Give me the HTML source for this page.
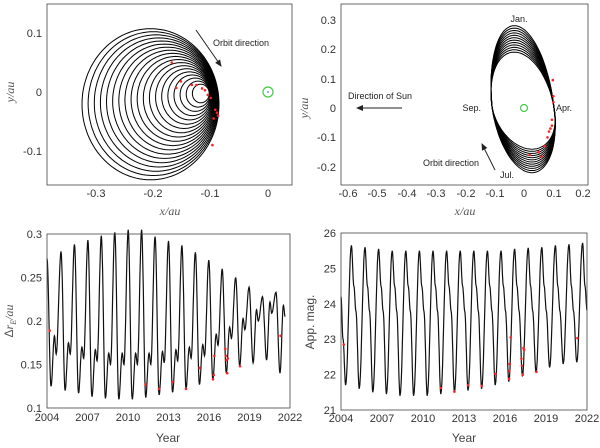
<!DOCTYPE html>
<html><head><meta charset="utf-8"><style>
html,body{margin:0;padding:0;background:#fff;}
svg{display:block;font-family:"Liberation Sans",sans-serif;}
.t{font-size:11px;fill:#333;}
.it{font-family:"Liberation Serif",serif;font-style:italic;font-size:12px;fill:#555;}
</style></head><body>
<svg id="s" width="600" height="448" viewBox="0 0 600 448" xmlns="http://www.w3.org/2000/svg">
<defs><marker id="ah" markerWidth="8" markerHeight="8" refX="6" refY="3" orient="auto"><path d="M0,0 L7,3 L0,6 Z" fill="#222"/></marker></defs>
<g id="g"></g>
<rect x="47" y="4" width="245" height="181" fill="none" stroke="#444" stroke-width="0.8"/>
<rect x="341" y="4" width="247" height="181" fill="none" stroke="#444" stroke-width="0.8"/>
<rect x="47" y="234" width="243" height="174" fill="none" stroke="#444" stroke-width="0.8"/>
<rect x="341" y="233" width="246" height="177" fill="none" stroke="#444" stroke-width="0.8"/>
<g class="t" text-anchor="middle">
<text x="96" y="197">-0.3</text><text x="153" y="197">-0.2</text><text x="210" y="197">-0.1</text><text x="268" y="197">0</text>
</g>
<g class="t" text-anchor="end">
<text x="42" y="37">0.1</text><text x="42" y="96">0</text><text x="42" y="155">-0.1</text>
</g>
<text class="it" x="170" y="215" text-anchor="middle">x/au</text>
<text class="it" transform="translate(14,92) rotate(-90)" text-anchor="middle">y/au</text>
<g class="t" text-anchor="middle">
<text x="348" y="197">-0.6</text><text x="377" y="197">-0.5</text><text x="407" y="197">-0.4</text><text x="436" y="197">-0.3</text><text x="466" y="197">-0.2</text><text x="495" y="197">-0.1</text><text x="524" y="197">0</text><text x="554" y="197">0.1</text><text x="583" y="197">0.2</text>
</g>
<g class="t" text-anchor="end">
<text x="336" y="24">0.3</text><text x="336" y="53">0.2</text><text x="336" y="83">0.1</text><text x="336" y="112">0</text><text x="336" y="141">-0.1</text><text x="336" y="171">-0.2</text>
</g>
<text class="it" x="465" y="215" text-anchor="middle">x/au</text>
<text class="it" transform="translate(308,108) rotate(-90)" text-anchor="middle">y/au</text>
<g class="t" text-anchor="middle" id="blx"></g>
<g class="t" text-anchor="end" id="bly"></g>
<text x="168" y="442" text-anchor="middle" style="font-size:12px;fill:#444">Year</text>
<text transform="translate(13,321) rotate(-90)" text-anchor="middle" style="font-size:12px;fill:#555">Δ<tspan font-family="Liberation Serif" font-style="italic">r<tspan font-size="8" dy="3">E</tspan><tspan dy="-3">/au</tspan></tspan></text>
<g class="t" text-anchor="middle" id="brx"></g>
<g class="t" text-anchor="end" id="bry"></g>
<text x="464" y="442" text-anchor="middle" style="font-size:12px;fill:#444">Year</text>
<text transform="translate(314,322) rotate(-90)" text-anchor="middle" style="font-size:12px;fill:#444">App. mag.</text>
<line x1="196" y1="30" x2="221" y2="66" stroke="#222" stroke-width="1" marker-end="url(#ah)"/>
<text x="213" y="46" style="font-size:9px;fill:#222">Orbit direction</text>
<circle cx="268" cy="92" r="5" fill="none" stroke="#4c4" stroke-width="1.2"/><circle cx="268" cy="92" r="0.8" fill="#33f"/>
<text x="519" y="22" text-anchor="middle" style="font-size:9px;fill:#222">Jan.</text>
<text x="481" y="111" text-anchor="end" style="font-size:9px;fill:#222">Sep.</text>
<text x="556" y="111" style="font-size:9px;fill:#222">Apr.</text>
<text x="507" y="178" text-anchor="middle" style="font-size:9px;fill:#222">Jul.</text>
<text x="423" y="166" style="font-size:9px;fill:#222">Orbit direction</text>
<line x1="495" y1="170" x2="482" y2="144" stroke="#222" stroke-width="1" marker-end="url(#ah)"/>
<text x="348" y="99" style="font-size:9px;fill:#222">Direction of Sun</text>
<line x1="402" y1="108" x2="357" y2="108" stroke="#222" stroke-width="1" marker-end="url(#ah)"/>
</svg>
<script>
(function(){
var g=document.getElementById('g'),NS='http://www.w3.org/2000/svg';
function P(d,c,w){var p=document.createElementNS(NS,'path');p.setAttribute('d',d);p.setAttribute('fill','none');p.setAttribute('stroke',c);p.setAttribute('stroke-width',w);g.appendChild(p);}
function D(x,y,r){var c=document.createElementNS(NS,'circle');c.setAttribute('cx',x);c.setAttribute('cy',y);c.setAttribute('r',r||1.3);c.setAttribute('fill','#f22');g.appendChild(c);}
function T(id,x,y,s){var t=document.createElementNS(NS,'text');t.setAttribute('x',x);t.setAttribute('y',y);t.textContent=s;document.getElementById(id).appendChild(t);}
var tx=function(x){return 268+x*573},ty=function(y){return 92-y*590};
for(var k=0;k<=18;k++){var r=0.015+0.107*k/18,cx=-0.105-r*0.82,cy=-0.17*r,d='';
for(var i=0;i<=120;i++){var a=i/120*2*Math.PI;var x=cx+r*0.98*Math.cos(a),y=cy+r*1.05*Math.sin(a);
d+=(i?'L':'M')+tx(x).toFixed(1)+','+ty(y).toFixed(1);}P(d,'#000',1);}
[[-0.168,0.05],[-0.152,0.018],[-0.16,0.007],[-0.133,0.012],[-0.115,0.006],[-0.11,0.003],[-0.105,-0.005],[-0.1,-0.01],[-0.092,-0.03],[-0.089,-0.035],[-0.095,-0.045],[-0.097,-0.09],[-0.087,-0.04],[-0.125,0.012]].forEach(function(p){D(tx(p[0]),ty(p[1]));});
var rx=function(x){return 524+x*294},ry=function(y){return 108-y*294};
for(var k=0;k<=11;k++){var tp=0.19+0.09*k/11,bt=0.14+0.08*k/11,d='';
for(var i=0;i<=120;i++){var a=i/120*2*Math.PI,s=Math.sin(a),c=Math.cos(a);
var x=-0.003+0.105*c-0.03*s,y=(s>0?tp:bt)*s;d+=(i?'L':'M')+rx(x).toFixed(1)+','+ry(y).toFixed(1);}P(d,'#000',1);}
[[0.1,0.04],[0.1,0.02],[0.098,0.095],[0.095,-0.04],[0.09,-0.07],[0.085,-0.08],[0.08,-0.1],[0.07,-0.13],[0.05,-0.15],[0.06,-0.165],[0.02,-0.16],[0.095,-0.06]].forEach(function(p){D(rx(p[0]),ry(p[1]));});
var gc=document.createElementNS(NS,'circle');gc.setAttribute('cx',524);gc.setAttribute('cy',108);gc.setAttribute('r',3.5);gc.setAttribute('fill','none');gc.setAttribute('stroke','#4c4');gc.setAttribute('stroke-width',1.2);g.appendChild(gc);
[2004,2007,2010,2013,2016,2019,2022].forEach(function(y){T('blx',47+(y-2004)*243/18,421,y);T('brx',341+(y-2004)*246/18,422,y);});
var by=function(v){return 408-(v-0.1)/0.2*174},bx=function(t){return 47+(t-2004)*243/18};
[['0.1',0.1],['0.15',0.15],['0.2',0.2],['0.25',0.25],['0.3',0.3]].forEach(function(a){T('bly',42,by(a[1])+4,a[0]);});
function smooth(pts,fx,fy){var d='';for(var i=0;i<pts.length-1;i++){var a=pts[i],b=pts[i+1];for(var j=0;j<=10;j++){var u=j/10,w=(1-Math.cos(Math.PI*u))/2;var t=a[0]+(b[0]-a[0])*u,v=a[1]+(b[1]-a[1])*w;var X=fx(t);if(X<fx(2004)||X>fx(2022))continue;d+=(d?'L':'M')+X.toFixed(1)+','+fy(v).toFixed(1);}}return d;}
var Pk=[0.28,0.288,0.293,0.298,0.302,0.305,0.305,0.297,0.292,0.287,0.279,0.27,0.26,0.25,0.239,0.228,0.233,0.22];
var Mn=[0.12,0.117,0.113,0.111,0.11,0.11,0.112,0.115,0.118,0.122,0.127,0.133,0.14,0.148,0.152,0.155,0.14,0.15];
var Bp=[0.175,0.17,0.167,0.163,0.163,0.163,0.163,0.165,0.167,0.17,0.173,0.185,0.193,0.203,0.213,0.222,0.218,0.2];
var pts=[[2004,0.272],[2004.3,0.125],[2004.55,0.183],[2004.68,0.162]];
for(var k=0;k<17;k++){var t0=2005.04+k*0.995;pts.push([t0,Pk[k]]);pts.push([t0+0.3,Mn[k]]);pts.push([t0+0.55,Bp[k]]);pts.push([t0+0.68,Bp[k]-0.013]);}
P(smooth(pts,bx,by),'#111',1.2);
[[2004.2,0.189],[2011.3,0.127],[2012.3,0.122],[2013.3,0.13],[2014.3,0.122],[2015.3,0.146],[2016.3,0.133],[2016.35,0.138],[2016.4,0.16],[2017.2,0.168],[2017.25,0.16],[2017.3,0.155],[2017.35,0.14],[2017.4,0.157],[2018.3,0.148],[2021.3,0.183]].forEach(function(p){D(bx(p[0]),by(p[1]));});
var my=function(v){return 410-(v-21)*177/5},mx=function(t){return 341+(t-2004)*246/18};
['21','22','23','24','25','26'].forEach(function(s,i){T('bry',336,my(21+i)+4,s);});
var Mi=[21.7,21.6,21.5,21.45,21.4,21.4,21.4,21.45,21.5,21.55,21.6,21.7,21.8,21.95,22.05,22.2,22.3,22.35];
var Pe=[25.65,25.6,25.55,25.5,25.5,25.5,25.5,25.5,25.5,25.5,25.5,25.5,25.55,25.58,25.6,25.65,25.68,25.72];
var q=[[2004,24.2],[2004.15,23.0]];
for(var k=0;k<18;k++){var t0=2004.34+k*0.995;q.push([t0,Mi[k]]);q.push([t0+0.42,Pe[k]]);q.push([t0+0.6,24.5]);q.push([t0+0.75,23.8]);}
P(smooth(q,mx,my),'#111',1.2);
[[2004.2,22.85],[2011.3,21.62],[2012.3,21.52],[2013.3,21.7],[2014.3,21.68],[2015.3,22.02],[2016.3,21.88],[2016.32,22.1],[2016.35,22.3],[2016.42,23.05],[2017.2,22.45],[2017.25,22.25],[2017.3,22.0],[2017.35,22.75],[2017.4,22.7],[2018.3,22.08],[2021.3,23.03]].forEach(function(p){D(mx(p[0]),my(p[1]));});
})();
</script>
</body></html>
